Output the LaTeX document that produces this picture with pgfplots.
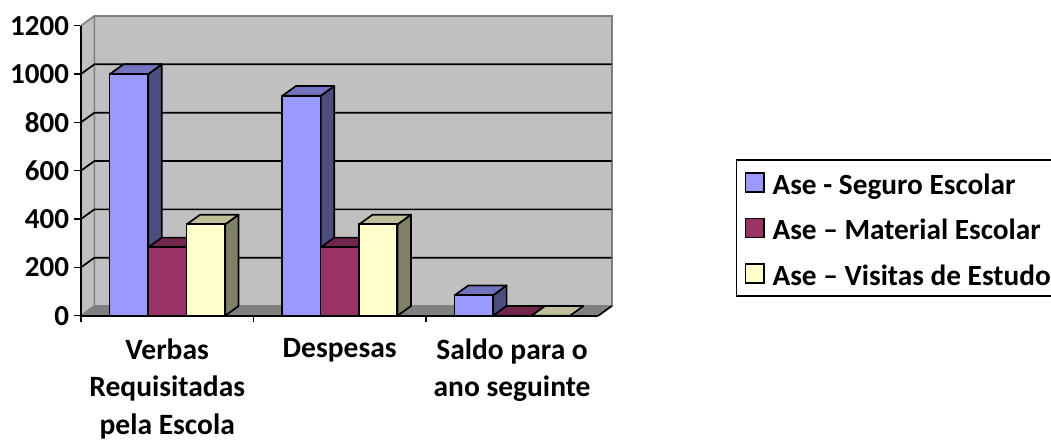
\documentclass[border=0pt]{standalone}
\usepackage{pgfplots}
\pgfplotsset{compat=1.18}
\usepackage{fontspec}
\setmainfont{Carlito}
\definecolor{wall}{HTML}{C0C0C0}
\definecolor{floorc}{HTML}{808080}
\definecolor{bluef}{HTML}{9999FF}\definecolor{blues}{HTML}{4D4D80}\definecolor{bluet}{HTML}{7373BF}
\definecolor{marf}{HTML}{993366}\definecolor{mars}{HTML}{73264D}\definecolor{mart}{HTML}{73264D}
\definecolor{yelf}{HTML}{FFFFCC}\definecolor{yels}{HTML}{808066}\definecolor{yelt}{HTML}{BFBF99}
\pgfplotsset{
  mybar/.style={ybar, bar width=38.4pt, draw=black, line width=1.7pt,
    legend image code/.code={\path[draw=none,fill=none] (-5pt,-1pt) rectangle (25pt,1pt); \draw[##1,line width=1.6pt] (0pt,-9.5pt) rectangle (18.5pt,9.5pt);}},
}
\newcommand\face[2]{\addplot[forget plot,fill=#1,draw=black,line width=1.7pt,line join=round] coordinates {#2} -- cycle;}
\newcommand\lin[3]{\addplot[forget plot,draw=#1,line width=#2] coordinates {#3};}
\begin{document}
\begin{tikzpicture}[x=1pt,y=1pt]
\path[use as bounding box] (0,0) rectangle (1051,441);
\begin{axis}[
  at={(81pt,125.3pt)}, anchor=south west,
  scale only axis, width=530.7pt, height=299.7pt,
  xmin=0, xmax=3.078, ymin=0, ymax=1240,
  clip=false,
  axis line style={draw=none},
  xtick={0,1,2}, xticklabels={},
  extra x ticks={0.5,1.5,2.5},
  extra x tick labels={{Verbas\\Requisitadas\\pela Escola},{Despesas},{Saldo para o\\ano seguinte}},
  extra x tick style={major tick length=0pt, tick label style={align=center,font=\fontsize{29.5}{37.5}\selectfont\bfseries,yshift=-22.5pt,inner sep=0pt}},
  ytick={0,200,400,600,800,1000,1200},
  yticklabel style={font=\fontsize{29}{32}\selectfont\bfseries,xshift=-2pt},
  /pgf/number format/assume math mode=true,
  /pgf/number format/1000 sep={},
  xtick pos=bottom, ytick pos=left, tick align=outside,
  major tick length=6.5pt,
  tick style={draw=black,line width=1.6pt},
  legend style={at={(1.2336,0.5222)},anchor=north west,draw=black,line width=1.7pt,fill=white,
    inner xsep=4pt,inner ysep=6pt,row sep=12.5pt,font=\fontsize{29.3}{32}\selectfont\bfseries,
    nodes={text height=26pt,text depth=3pt}},
  legend cell align=left,
]
% walls and floor
\addplot[forget plot,fill=wall,draw=floorc,line width=1.7pt] coordinates {(0.0777,40)(3.078,40)(3.078,1240)(0.0777,1240)} -- cycle;
\addplot[forget plot,fill=wall,draw=floorc,line width=1.7pt] coordinates {(0,0)(0.0777,40)(0.0777,1240)(0,1200)} -- cycle;
\addplot[forget plot,fill=floorc,draw=floorc,line width=1.2pt] coordinates {(0,0)(0.0777,40)(3.078,40)(3.0005,0)} -- cycle;
% gridlines
\lin{black}{1.7pt}{(0,200)(0.0777,240)(3.078,240)}
\lin{black}{1.7pt}{(0,400)(0.0777,440)(3.078,440)}
\lin{black}{1.7pt}{(0,600)(0.0777,640)(3.078,640)}
\lin{black}{1.7pt}{(0,800)(0.0777,840)(3.078,840)}
\lin{black}{1.7pt}{(0,1000)(0.0777,1040)(3.078,1040)}
\lin{black}{1.7pt}{(3.0005,0)(3.078,40)}
% axes
\lin{black}{1.7pt}{(0,1200)(0,0)(3.0005,0)}
% Ase - Seguro Escolar
\face{blues}{(0.3909,0)(0.4686,40)(0.4686,1040)(0.3909,1000)}
\face{bluet}{(0.1682,1000)(0.2459,1040)(0.4686,1040)(0.3909,1000)}
\face{blues}{(1.3909,0)(1.4686,40)(1.4686,950)(1.3909,910)}
\face{bluet}{(1.1682,910)(1.2459,950)(1.4686,950)(1.3909,910)}
\face{blues}{(2.3909,0)(2.4686,40)(2.4686,125)(2.3909,85)}
\face{bluet}{(2.1682,85)(2.2459,125)(2.4686,125)(2.3909,85)}
\addplot[mybar,bar shift=-38.4pt,fill=bluef] coordinates {(0.5,1000)(1.5,910)(2.5,85)};
\addlegendentry{Ase - Seguro Escolar}
% Ase – Material Escolar
\face{mars}{(0.6136,0)(0.6913,40)(0.6913,323)(0.6136,283)}
\face{mart}{(0.3909,283)(0.4686,323)(0.6913,323)(0.6136,283)}
\face{mars}{(1.6136,0)(1.6913,40)(1.6913,323)(1.6136,283)}
\face{mart}{(1.3909,283)(1.4686,323)(1.6913,323)(1.6136,283)}
\face{mart}{(2.3909,0)(2.4686,40)(2.6913,40)(2.6136,0)}
\addplot[mybar,bar shift=0pt,fill=marf] coordinates {(0.5,283)(1.5,283)(2.5,0)};
\addlegendentry{Ase – Material Escolar}
% Ase – Visitas de Estudo
\face{yels}{(0.8363,0)(0.9140,40)(0.9140,418)(0.8363,378)}
\face{yelt}{(0.6136,378)(0.6913,418)(0.9140,418)(0.8363,378)}
\face{yels}{(1.8363,0)(1.9140,40)(1.9140,418)(1.8363,378)}
\face{yelt}{(1.6136,378)(1.6913,418)(1.9140,418)(1.8363,378)}
\face{yelt}{(2.6136,0)(2.6913,40)(2.9140,40)(2.8363,0)}
\addplot[mybar,bar shift=38.4pt,fill=yelf] coordinates {(0.5,378)(1.5,378)(2.5,0)};
\addlegendentry{Ase – Visitas de Estudo}
\end{axis}
\end{tikzpicture}
\end{document}
